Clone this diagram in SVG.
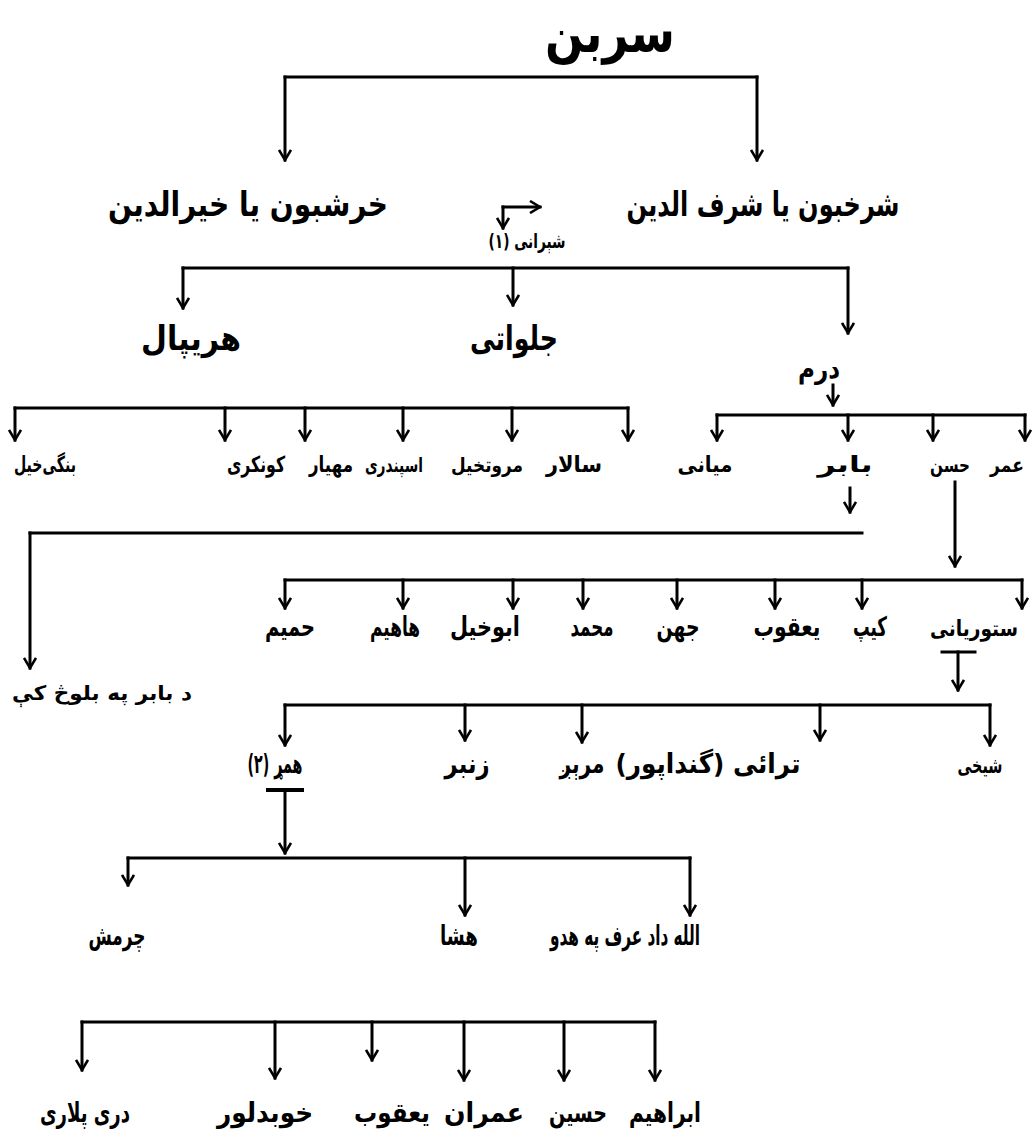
<svg xmlns="http://www.w3.org/2000/svg" width="1036" height="1147" viewBox="0 0 1036 1147">
<defs>
<style>
.t{font-family:"DejaVu Sans",sans-serif;font-weight:bold;fill:#000;text-anchor:middle;direction:rtl}
.h1{font-size:54px}
.h2{font-size:34px}
.n{font-size:27px}
.m{font-size:22px}
.k{font-size:20px}
.s{font-size:20px}
.c line,.c path{stroke:#000;stroke-width:3;fill:none;stroke-linecap:square}
.c .a{marker-end:url(#ah)}
</style>
<marker id="ah" viewBox="0 0 14 14" refX="12" refY="7" markerWidth="14" markerHeight="14" markerUnits="userSpaceOnUse" orient="auto">
<path d="M2,1 L12,7 L2,13" fill="none" stroke="#000" stroke-width="2.6"/>
</marker>
</defs>
<rect width="1036" height="1147" fill="#fff"/>
<g class="c" id="connectors">
<line x1="285" y1="77" x2="757" y2="77"/>
<line class="a" x1="285" y1="77" x2="285" y2="160"/>
<line class="a" x1="757" y1="77" x2="757" y2="160"/>
<line class="a" x1="503" y1="207" x2="540" y2="207"/>
<line class="a" x1="503" y1="207" x2="503" y2="228"/>
<line x1="183" y1="268" x2="848" y2="268"/>
<line class="a" x1="183" y1="268" x2="183" y2="308"/>
<line class="a" x1="513" y1="268" x2="513" y2="305"/>
<line class="a" x1="848" y1="268" x2="848" y2="333"/>
<line class="a" x1="833" y1="385" x2="833" y2="405"/>
<line x1="15" y1="408" x2="628" y2="408"/>
<line class="a" x1="15" y1="408" x2="15" y2="440"/>
<line class="a" x1="225" y1="408" x2="225" y2="440"/>
<line class="a" x1="305" y1="408" x2="305" y2="440"/>
<line class="a" x1="403" y1="408" x2="403" y2="440"/>
<line class="a" x1="512" y1="408" x2="512" y2="440"/>
<line class="a" x1="628" y1="408" x2="628" y2="440"/>
<line x1="717" y1="415" x2="1025" y2="415"/>
<line class="a" x1="717" y1="415" x2="717" y2="440"/>
<line class="a" x1="848" y1="415" x2="848" y2="440"/>
<line class="a" x1="933" y1="415" x2="933" y2="440"/>
<line class="a" x1="1025" y1="415" x2="1025" y2="440"/>
<line class="a" x1="850" y1="488" x2="850" y2="512"/>
<line x1="30" y1="533" x2="862" y2="533"/>
<line class="a" x1="30" y1="533" x2="30" y2="668"/>
<line class="a" x1="955" y1="482" x2="955" y2="566"/>
<line x1="285" y1="580" x2="1022" y2="580"/>
<line class="a" x1="285" y1="580" x2="285" y2="608"/>
<line class="a" x1="403" y1="580" x2="403" y2="608"/>
<line class="a" x1="513" y1="580" x2="513" y2="608"/>
<line class="a" x1="583" y1="580" x2="583" y2="608"/>
<line class="a" x1="677" y1="580" x2="677" y2="608"/>
<line class="a" x1="775" y1="580" x2="775" y2="608"/>
<line class="a" x1="862" y1="580" x2="862" y2="608"/>
<line class="a" x1="1022" y1="580" x2="1022" y2="608"/>
<line x1="942" y1="652" x2="975" y2="652"/>
<line class="a" x1="958" y1="652" x2="958" y2="690"/>
<line x1="285" y1="705" x2="990" y2="705"/>
<line class="a" x1="285" y1="705" x2="285" y2="745"/>
<line class="a" x1="465" y1="705" x2="465" y2="740"/>
<line class="a" x1="582" y1="705" x2="582" y2="742"/>
<line class="a" x1="820" y1="705" x2="820" y2="740"/>
<line class="a" x1="990" y1="705" x2="990" y2="745"/>
<line x1="268" y1="790" x2="302" y2="790" style="stroke-width:4"/>
<line class="a" x1="285" y1="790" x2="285" y2="853"/>
<line x1="128" y1="858" x2="690" y2="858"/>
<line class="a" x1="128" y1="858" x2="128" y2="885"/>
<line class="a" x1="465" y1="858" x2="465" y2="915"/>
<line class="a" x1="690" y1="858" x2="690" y2="915"/>
<line x1="82" y1="1022" x2="655" y2="1022"/>
<line class="a" x1="82" y1="1022" x2="82" y2="1070"/>
<line class="a" x1="275" y1="1022" x2="275" y2="1078"/>
<line class="a" x1="372" y1="1022" x2="372" y2="1060"/>
<line class="a" x1="464" y1="1022" x2="464" y2="1080"/>
<line class="a" x1="564" y1="1022" x2="564" y2="1080"/>
<line class="a" x1="655" y1="1022" x2="655" y2="1080"/>
</g>
<g id="n-sarban"><text class="t h1" x="610" y="52" textLength="130" lengthAdjust="spacingAndGlyphs">سربن</text></g>
<g id="n-kharshbun"><text class="t h2" x="248" y="216" textLength="280" lengthAdjust="spacingAndGlyphs">خرشبون یا خیرالدین</text></g>
<g id="n-sharkhbun"><text class="t h2" x="763" y="216" textLength="273" lengthAdjust="spacingAndGlyphs">شرخبون یا شرف الدین</text></g>
<g id="n-sherani"><text class="t s" x="527" y="248" textLength="77" lengthAdjust="spacingAndGlyphs">شېرانی (۱)</text></g>
<g id="n-haripal"><text class="t h2" x="191" y="350" textLength="100" lengthAdjust="spacingAndGlyphs">هریپال</text></g>
<g id="n-jalwani"><text class="t h2" x="514" y="350" textLength="88" lengthAdjust="spacingAndGlyphs">جلواتی</text></g>
<g id="n-daram"><text class="t n" x="819" y="378" textLength="42" lengthAdjust="spacingAndGlyphs">درم</text></g>
<g id="n-bangikhel"><text class="t m" x="45" y="472" textLength="62" lengthAdjust="spacingAndGlyphs">بنگی‌خیل</text></g>
<g id="n-kunkari"><text class="t m" x="256" y="472" textLength="58" lengthAdjust="spacingAndGlyphs">کونکری</text></g>
<g id="n-mahyar"><text class="t m" x="331" y="472" textLength="44" lengthAdjust="spacingAndGlyphs">مهیار</text></g>
<g id="n-ispandari"><text class="t k" x="394" y="472" textLength="58" lengthAdjust="spacingAndGlyphs">اسپندری</text></g>
<g id="n-marwatkhel"><text class="t k" x="487" y="472" textLength="72" lengthAdjust="spacingAndGlyphs">مروتخیل</text></g>
<g id="n-salar"><text class="t m" x="574" y="472" textLength="56" lengthAdjust="spacingAndGlyphs">سالار</text></g>
<g id="n-miani"><text class="t m" x="705" y="472" textLength="55" lengthAdjust="spacingAndGlyphs">میانی</text></g>
<g id="n-babar"><text class="t m" x="845" y="472" textLength="55" lengthAdjust="spacingAndGlyphs">بابر</text></g>
<g id="n-hasan"><text class="t k" x="950" y="472" textLength="40" lengthAdjust="spacingAndGlyphs">حسن</text></g>
<g id="n-umar"><text class="t k" x="1007" y="472" textLength="34" lengthAdjust="spacingAndGlyphs">عمر</text></g>
<g id="n-babar-note"><text class="t s" x="102" y="700" textLength="180" lengthAdjust="spacingAndGlyphs">د بابر په بلوڅ کې</text></g>
<g id="n-hamim"><text class="t n" x="290" y="636" textLength="50" lengthAdjust="spacingAndGlyphs">حمیم</text></g>
<g id="n-hahim"><text class="t n" x="395" y="636" textLength="50" lengthAdjust="spacingAndGlyphs">هاهیم</text></g>
<g id="n-abukhel"><text class="t n" x="485" y="636" textLength="70" lengthAdjust="spacingAndGlyphs">ابوخیل</text></g>
<g id="n-muhammad"><text class="t n" x="592" y="636" textLength="43" lengthAdjust="spacingAndGlyphs">محمد</text></g>
<g id="n-jahan"><text class="t n" x="678" y="636" textLength="43" lengthAdjust="spacingAndGlyphs">جهن</text></g>
<g id="n-yaqub"><text class="t n" x="787" y="636" textLength="67" lengthAdjust="spacingAndGlyphs">یعقوب</text></g>
<g id="n-kip"><text class="t n" x="870" y="636" textLength="34" lengthAdjust="spacingAndGlyphs">کیپ</text></g>
<g id="n-storyani"><text class="t m" x="974" y="636" textLength="88" lengthAdjust="spacingAndGlyphs">ستوریانی</text></g>
<g id="n-hamar"><text class="t n" x="275" y="773" textLength="55" lengthAdjust="spacingAndGlyphs">همړ (۲)</text></g>
<g id="n-zanbar"><text class="t n" x="467" y="773" textLength="45" lengthAdjust="spacingAndGlyphs">زنبر</text></g>
<g id="n-marez"><text class="t n" x="582" y="773" textLength="45" lengthAdjust="spacingAndGlyphs">مرېږ</text></g>
<g id="n-tarai"><text class="t n" x="708" y="773" textLength="185" lengthAdjust="spacingAndGlyphs">ترائی (گنداپور)</text></g>
<g id="n-shekhi"><text class="t m" x="980" y="773" textLength="45" lengthAdjust="spacingAndGlyphs">شیخی</text></g>
<g id="n-charmash"><text class="t n" x="117" y="945" textLength="57" lengthAdjust="spacingAndGlyphs">چرمش</text></g>
<g id="n-hasha"><text class="t n" x="459" y="945" textLength="38" lengthAdjust="spacingAndGlyphs">هشا</text></g>
<g id="n-allahdad"><text class="t n" x="625" y="945" textLength="150" lengthAdjust="spacingAndGlyphs">الله داد عرف په هدو</text></g>
<g id="n-daripalari"><text class="t n" x="85" y="1122" textLength="90" lengthAdjust="spacingAndGlyphs">دری پلاری</text></g>
<g id="n-khubdalur"><text class="t n" x="265" y="1122" textLength="96" lengthAdjust="spacingAndGlyphs">خوبدلور</text></g>
<g id="n-yaqub2"><text class="t n" x="392" y="1122" textLength="76" lengthAdjust="spacingAndGlyphs">یعقوب</text></g>
<g id="n-imran"><text class="t n" x="484" y="1122" textLength="80" lengthAdjust="spacingAndGlyphs">عمران</text></g>
<g id="n-husain"><text class="t n" x="578" y="1122" textLength="58" lengthAdjust="spacingAndGlyphs">حسین</text></g>
<g id="n-ibrahim"><text class="t n" x="665" y="1122" textLength="72" lengthAdjust="spacingAndGlyphs">ابراهیم</text></g>
</svg>
